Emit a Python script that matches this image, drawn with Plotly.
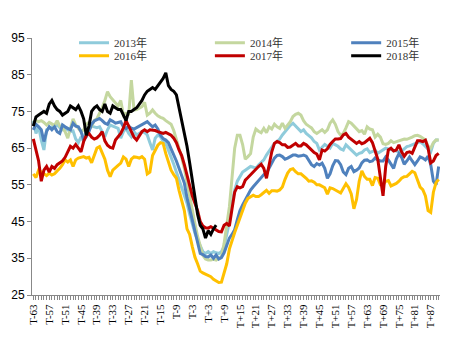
import plotly.graph_objects as go

categories = [f"T{i}" if i < 0 else ("T" if i == 0 else f"T+{i}") for i in range(-63, 91)]
tick_labels = [c if k % 6 == 0 else "" for k, c in enumerate(categories)]
y_ticks = [25, 35, 45, 55, 65, 75, 85, 95]

y2013 = [72.5, 69, 71, 67.2, 64.5, 70, 70.5, 70.8, 71, 71.3, 70.6, 70, 70.4, 70, 69.5, 69.7, 67.5, 66.5, 68.1, 66.8,
         70.5, 70.2, 71, 70.8, 70.6, 70.8, 69.5, 68.1, 70, 71.3, 71, 70.8, 70.4, 67.7, 69.5, 70.4, 69, 68.1, 69.5, 68.6,
         69, 69.5, 69.2, 68.6, 66.5, 64.5, 67.7, 68.6, 68.1, 66.8, 66.3, 64.6, 62.5, 60.6, 58.5, 56.5, 54.5, 52.7, 50, 47,
         44, 41.8, 40, 38.2, 36.8, 36.3, 36.8, 36.3, 36.8, 36.5, 36.3, 36.8, 38.2, 41.5, 44.8, 50, 53.6, 56, 57.2, 58.5,
         59, 59.5, 60, 59.8, 59.5, 60.4, 61.2, 61.8, 63.1, 64.2, 65.2, 66.3, 66.8, 67.5, 68.6, 69.5, 70.4, 71.2, 71.8, 71,
         70, 69.5, 70, 69, 68.4, 67.8, 66.8, 66.3, 64.5, 65.4, 66, 65.5, 65, 66.3, 65.9, 65.5, 64.8, 64.5, 65.9, 65.2,
         64.6, 64, 63.1, 63.6, 63.8, 64.5, 64.8, 63.8, 64, 64.4, 63.6, 64, 64.5, 65, 64.8, 64.5, 64.4, 64.2, 64, 64.2,
         64.8, 65.4, 65.6, 65.9, 66.2, 66.5, 66.8, 66.2, 65.4, 64.8, 64, 66.3, 67.2, 67.2]

y2014 = [72, 72.5, 72.2, 72.5, 72, 71.3, 72, 71.5, 71.2, 72.5, 71, 70.4, 69.5, 67.7, 70.4, 73, 71.3, 70.3, 69.5, 70,
         71.5, 72, 71, 72.5, 73, 74.5, 76, 78, 80.4, 79, 78.2, 77.6, 76.5, 78, 74, 74.5, 74, 83.5, 75.4, 75.5,
         76, 76.3, 77.5, 74, 74.5, 75.4, 74.5, 73.8, 73.4, 73.1, 72.5, 72, 71.5, 69.8, 67.5, 65, 62.5, 59.5, 56, 52,
         48.5, 44.5, 41, 38, 35.8, 34.8, 34.5, 34.5, 34.7, 34.5, 35, 35.4, 39, 43.6, 49, 57, 65, 68.5, 68.5, 66,
         62, 62.7, 63.5, 68, 70.2, 69.6, 69.2, 70.4, 69.2, 70.8, 70.2, 71.5, 70.8, 70.4, 71.8, 70.4, 71.2, 72.2, 73.6, 74.2,
         74.5, 74, 72.5, 71.5, 71, 70.5, 69.5, 69, 69.5, 70, 69.3, 70, 71.8, 72.7, 71.5, 69.5, 68.5, 69, 70.5, 72.2,
         71.8, 71, 70, 69.5, 69.8, 68.8, 70.8, 70.2, 70, 68, 68.8, 68, 66.2, 66, 66.3, 67, 66.5, 66.8, 67, 67.2,
         67.5, 67.4, 67.6, 68, 68.4, 68.5, 68.2, 67.8, 67.2, 65.5, 65, 66.5, 67.2, 67.2]

y2015 = [70, 71.5, 70.8, 70, 66.8, 69.5, 70.8, 70, 70.8, 69.5, 69, 71.3, 70.8, 70.3, 70, 71.8, 71, 70.8, 69.5, 67.2,
         68.1, 69.5, 71.5, 72.4, 72.7, 73.1, 72.5, 71.8, 71.5, 72.7, 72.3, 71.8, 72, 72.2, 70.8, 70.3, 71, 70.4, 70.2, 70.6,
         71, 71.5, 71.8, 72.2, 71.5, 70.8, 71.3, 70.2, 68.5, 67.6, 67.2, 66.5, 64.8, 63.3, 61.5, 59.5, 57.7, 55.5, 51.5, 48.5,
         45.5, 42.5, 39, 36.3, 36, 35.5, 35.4, 35.9, 35, 35.9, 34.8, 35.2, 36.5, 38.5, 40.5, 41.5, 42.8, 45.5, 48, 49.5,
         51, 52.3, 53.6, 54.5, 55.4, 56, 57, 57.8, 58.2, 59.5, 60.8, 62.3, 63, 63.1, 62.7, 62, 62.3, 62.8, 63.1, 63.1,
         62.8, 62.9, 63.1, 62.8, 61.5, 60.5, 60, 60.8, 60.4, 60.9, 59.5, 56.8, 58, 60.2, 61.6, 61.5, 60.5, 58.5, 57.8, 59.5,
         60, 58.6, 59, 59.6, 61, 61.7, 61.8, 61.3, 61.5, 62.3, 61.8, 61.5, 61.5, 62.6, 61.8, 60.8, 59.5, 62, 63.5, 62.5,
         60.6, 61.5, 62.6, 61.5, 60.5, 61.5, 62.6, 62.3, 61.8, 62.8, 60.5, 56, 55, 60]

y2016 = [58, 57, 59, 58.6, 58, 57.5, 58.2, 57.7, 58, 58.8, 59.5, 60.5, 61.8, 61.2, 61.8, 60, 61.8, 62.3, 62.5, 62.7,
         62.3, 62.5, 61, 63.2, 65, 65.4, 63.6, 62, 59, 57.2, 59, 59.8, 60.3, 60.9, 62.6, 62, 60, 62, 62.6, 62.5,
         62.3, 62.7, 62, 58, 58.5, 63, 64.5, 65.8, 66.5, 66.3, 63.5, 61, 59, 57.8, 56.8, 53.5, 51, 48, 43, 41.5,
         38.2, 35.3, 33.5, 31.5, 31, 30.7, 30.3, 30, 29.3, 28.8, 28.4, 28.5, 30.9, 33.5, 37.5, 40, 42, 44, 46, 48,
         50, 51.3, 51.8, 52.2, 51.8, 51.8, 52.3, 53, 53.5, 52.7, 53.4, 53.4, 53.3, 53.6, 54.4, 56.5, 58.2, 59.2, 59.4, 58.6,
         58, 58, 57.5, 56.8, 56, 56.1, 55.7, 55, 55, 54.6, 54.2, 52.5, 54.2, 54, 53.5, 53.2, 52.8, 54, 55.3, 54.3,
         52.5, 48.5, 51, 56, 58.8, 57.3, 56.5, 56.5, 54.8, 57, 56.8, 55, 55, 56, 56.2, 54.7, 55, 55.4, 56, 56.8,
         57.2, 57.3, 58, 58.7, 58.3, 56.3, 54.4, 53.7, 52, 48, 47.5, 53, 55.6, 56.5]

y2017 = [67.5, 64.5, 61.5, 56, 59, 60, 58.5, 60, 59.5, 60.5, 61, 61.5, 62.5, 64, 65.5, 65, 66, 65, 64, 66.8,
         68.5, 69, 68, 67.5, 67.8, 68.5, 69.5, 67, 65.8, 65.2, 65, 67.2, 68, 69, 70.5, 72.5, 71, 69.5, 68, 67.2,
         68.5, 69.5, 70, 69.5, 70, 70, 69.8, 69.5, 69.3, 69, 69.3, 69, 68.5, 67.7, 66.5, 64.5, 63, 60.5, 57.5, 54.5,
         52, 50, 48, 45, 43.8, 43.3, 43.2, 43.6, 43.2, 42.8, 42.3, 42.2, 44, 44.5, 43.8, 48.5, 53, 54.5, 54.2, 54.5,
         56.3, 57, 57.8, 58.5, 59.2, 60, 60.6, 59.5, 56.8, 61, 64, 66.3, 66.8, 66.5, 65.9, 65.9, 65.2, 65.3, 65.8, 66.3,
         65.6, 65.6, 66.3, 65.9, 65.2, 64.5, 63.8, 63.4, 61.8, 64.5, 64.2, 64.8, 66, 66.8, 67.5, 67.5, 67.6, 68.6, 69, 68,
         67.5, 67, 66.3, 66.8, 66.2, 66.5, 67.2, 67.7, 66.5, 64.5, 62, 57, 52, 60, 64.5, 65, 64.2, 64.5, 65.9, 64,
         62.8, 63.8, 64, 63.6, 65.4, 67, 67, 66.8, 67.2, 65, 61, 61.5, 63, 63.6]

y2018 = [71, 73.5, 74, 74.5, 75, 74.5, 77, 78, 76.5, 75.5, 75, 74, 74.5, 75, 76.5, 76, 75.5, 76.5, 75, 73,
         68.5, 71, 75, 76, 76.5, 75.5, 75, 77, 75, 74.5, 76.5, 76, 75.5, 75.5, 74, 72.5, 75, 75, 75.5, 76,
         77, 78, 79.5, 80.5, 81, 81.5, 81, 82, 83, 84, 85.5, 82, 81, 80.5, 79.5, 76, 73.5, 70, 65.5, 61,
         56.5, 51.5, 47, 44, 43, 40.5, 42.5, 41.5, 43, 44]

series = [
    ("2013年", y2013, "#8fcbdb"),
    ("2014年", y2014, "#c4d79f"),
    ("2015年", y2015, "#4f81bd"),
    ("2016年", y2016, "#ffc000"),
    ("2017年", y2017, "#c00000"),
    ("2018年", y2018, "#000000"),
]

# legend slot for each series: (column x in paper, row y in paper)
col_x = [0.103, 0.436, 0.77]
row_y = [0.982, 0.931]

fig = go.Figure()
legend_layout = {}
for k, (name, vals, color) in enumerate(series):
    key = "legend" if k == 0 else f"legend{k + 1}"
    fig.add_trace(go.Scatter(
        x=categories[:len(vals)], y=vals, name=name, mode="lines",
        line=dict(color=color, width=3), legend=key,
    ))
    legend_layout[key] = dict(
        x=col_x[k % 3], y=row_y[k // 3],
        orientation="h", xanchor="left", yanchor="middle",
        font=dict(family="Liberation Serif, Noto Sans CJK SC", size=11, color="#333333"),
        bgcolor="rgba(0,0,0,0)", itemwidth=30,
    )

fig.update_layout(
    width=446, height=349,
    margin=dict(l=24, r=14, t=30, b=62),
    paper_bgcolor="white", plot_bgcolor="white",
    showlegend=True,
    xaxis=dict(
        type="category", categoryorder="array", categoryarray=categories,
        range=[-0.5, len(categories) - 0.5],
        tickmode="array", tickvals=categories, ticktext=tick_labels,
        tickangle=-90, ticks="outside", ticklen=4, tickcolor="#888888",
        showline=True, linecolor="#888888", linewidth=1,
        showgrid=False, zeroline=False, automargin=False,
        tickfont=dict(family="Liberation Serif", size=11, color="#000000"),
    ),
    yaxis=dict(
        range=[25, 95], tickmode="array", tickvals=y_ticks,
        ticks="outside", ticklen=4, tickcolor="#888888",
        showline=True, linecolor="#888888", linewidth=1,
        showgrid=False, zeroline=False, automargin=False,
        tickfont=dict(family="Liberation Sans", size=12, color="#000000"),
    ),
)
fig.update_layout(**legend_layout)

fig.write_html("out.html")
